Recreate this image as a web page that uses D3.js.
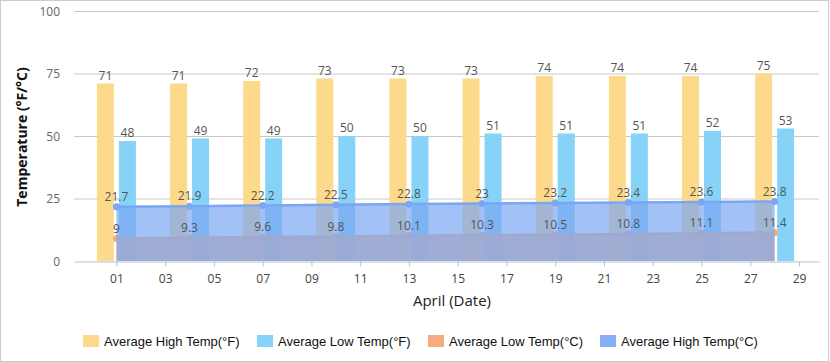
<!DOCTYPE html>
<html>
<head>
<meta charset="utf-8">
<script src="https://cdn.jsdelivr.net/npm/d3@7"></script>
<style>
  body { margin: 0; background: #fff; }
  svg { display: block; }
  .tick-label { font-family: "Open Sans", sans-serif; font-size: 12px; }
  .data-label { font-family: "Open Sans", sans-serif; font-size: 12px; fill: #555; }
  .legend text { font-family: "Liberation Sans", Arial, sans-serif; font-size: 13px; fill: #111; }
</style>
</head>
<body>
<svg id="chart"></svg>
<script>
var width = 830,
  height = 362;

// data
var days = [1, 4, 7, 10, 13, 16, 19, 22, 25, 28];
var highF = [71, 71, 72, 73, 73, 73, 74, 74, 74, 75];
var lowF = [48, 49, 49, 50, 50, 51, 51, 51, 52, 53];
var lowC = [9, 9.3, 9.6, 9.8, 10.1, 10.3, 10.5, 10.8, 11.1, 11.4];
var highC = [21.7, 21.9, 22.2, 22.5, 22.8, 23, 23.2, 23.4, 23.6, 23.8];
var tickDays = d3.range(1, 30, 2);
var yTicks = [0, 25, 50, 75, 100];
var legendNames = ['Average High Temp(°F)', 'Average Low Temp(°F)', 'Average Low Temp(°C)', 'Average High Temp(°C)'];

var colors = {
  highF: '#fdda8b',
  lowF: '#87d3f8',
  lowC: '#f4ae7d',
  highC: '#7ba6f2'
};

var svg = d3.select('#chart')
  .attr('width', width)
  .attr('height', height);

svg.append('rect')
  .attr('x', 0.5).attr('y', 0.5)
  .attr('width', width - 2).attr('height', height - 1)
  .attr('fill', '#fff')
  .attr('stroke', '#ccc');

var x = d3.scaleLinear()
  .domain([-0.74, 29.82])
  .range([74, 819]);

var y = d3.scaleLinear()
  .domain([0, 100])
  .range([261, 11]);

var sub = d3.scaleBand()
  .domain(['highF', 'lowF'])
  .range([-19.5, 19.5])
  .paddingInner(5 / 22);

// grid lines
svg.append('g')
  .selectAll('line')
  .data(yTicks.filter(function(d) { return d > 0; }))
  .enter().append('line')
  .attr('x1', x.range()[0])
  .attr('x2', x.range()[1])
  .attr('y1', function(d) { return y(d) + 0.5; })
  .attr('y2', function(d) { return y(d) + 0.5; })
  .attr('stroke', '#c8c8c8');

// y axis labels
var yAxis = svg.append('g')
  .attr('transform', 'translate(' + x.range()[0] + ',0.5)')
  .call(d3.axisLeft(y).tickValues(yTicks).tickSize(0).tickPadding(14));
yAxis.select('.domain').remove();
yAxis.selectAll('text')
  .attr('class', 'tick-label')
  .attr('fill', '#666')
  .style('font-size', '12px');

// bars
var barData = [];
days.forEach(function(d, i) {
  barData.push({ key: 'highF', day: d, v: highF[i] });
  barData.push({ key: 'lowF', day: d, v: lowF[i] });
});

svg.append('g')
  .selectAll('rect')
  .data(barData)
  .enter().append('rect')
  .attr('x', function(d) { return x(d.day) + sub(d.key); })
  .attr('width', sub.bandwidth())
  .attr('y', function(d) { return y(d.v); })
  .attr('height', function(d) { return y(0) - y(d.v); })
  .attr('fill', function(d) { return colors[d.key]; });

function series(vals) {
  return days.map(function(d, i) { return { day: d, v: vals[i] }; });
}

var area = d3.area()
  .x(function(d) { return x(d.day); })
  .y0(y(0))
  .y1(function(d) { return y(d.v); });

var line = d3.line()
  .x(function(d) { return x(d.day); })
  .y(function(d) { return y(d.v); });

function drawSeries(vals, color, fillOpacity) {
  var g = svg.append('g');
  var data = series(vals);
  g.append('path')
    .datum(data)
    .attr('d', area)
    .attr('fill', color)
    .attr('fill-opacity', fillOpacity);
  g.append('path')
    .datum(data)
    .attr('d', line)
    .attr('fill', 'none')
    .attr('stroke', color)
    .attr('stroke-width', 2.5);
  g.selectAll('circle')
    .data(data)
    .enter().append('circle')
    .attr('cx', function(d) { return x(d.day); })
    .attr('cy', function(d) { return y(d.v); })
    .attr('r', 3.5)
    .attr('fill', color);
}

drawSeries(lowC, colors.lowC, 0.85);
drawSeries(highC, colors.highC, 0.7);

// x axis
var xAxis = svg.append('g')
  .attr('transform', 'translate(0,' + (y(0) + 0.5) + ')')
  .call(d3.axisBottom(x)
    .tickValues(tickDays)
    .tickSize(5)
    .tickSizeOuter(0)
    .tickPadding(8)
    .tickFormat(function(d) { return d < 10 ? '0' + d : '' + d; }));
xAxis.select('.domain').attr('stroke', '#b6bfd0');
xAxis.selectAll('.tick line').attr('stroke', '#b6bfd0');
xAxis.selectAll('text')
  .attr('class', 'tick-label')
  .attr('fill', '#444')
  .style('font-size', '12px');

// data labels
var labels = svg.append('g');

labels.selectAll('text.bar')
  .data(barData)
  .enter().append('text')
  .attr('class', 'data-label')
  .attr('x', function(d) { return x(d.day) + sub(d.key) + sub.bandwidth() / 2; })
  .attr('y', function(d) { return y(d.v) - 4; })
  .attr('text-anchor', 'middle')
  .text(function(d) { return d.v; });

[lowC, highC].forEach(function(vals) {
  labels.selectAll(null)
    .data(series(vals))
    .enter().append('text')
    .attr('class', 'data-label')
    .attr('x', function(d) { return x(d.day); })
    .attr('y', function(d) { return y(d.v) - 6; })
    .attr('text-anchor', 'middle')
    .text(function(d) { return d.v; });
});

// axis titles
svg.append('text')
  .attr('x', 452)
  .attr('y', 306)
  .attr('text-anchor', 'middle')
  .attr('font-family', '"Open Sans", sans-serif')
  .attr('font-size', 15)
  .attr('fill', '#222')
  .text('April (Date)');

svg.append('text')
  .attr('transform', 'translate(27,137) rotate(-90)')
  .attr('text-anchor', 'middle')
  .attr('font-family', '"Open Sans", sans-serif')
  .attr('font-weight', 'bold')
  .attr('font-size', 14)
  .attr('fill', '#111')
  .text('Temperature (°F/°C)');

// legend
var legendKeys = ['highF', 'lowF', 'lowC', 'highC'];
var legendX = [83, 257, 428, 600];
var legend = svg.append('g').attr('class', 'legend');
legendKeys.forEach(function(k, i) {
  legend.append('rect')
    .attr('x', legendX[i])
    .attr('y', 335)
    .attr('width', 16)
    .attr('height', 12)
    .attr('fill', k === 'highC' ? '#87aef5' : colors[k]);
  legend.append('text')
    .attr('x', legendX[i] + 21)
    .attr('y', 346)
    .text(legendNames[i]);
});
</script>
</body>
</html>
